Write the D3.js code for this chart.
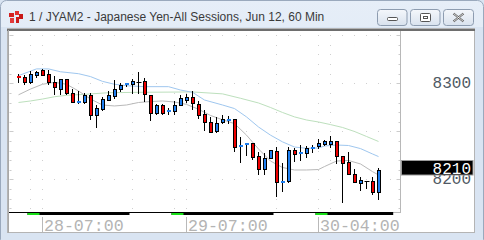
<!DOCTYPE html>
<html><head><meta charset="utf-8">
<script src="https://cdn.jsdelivr.net/npm/d3@7"></script>
<style>html,body{margin:0;padding:0;background:#d9e4f2;overflow:hidden}svg{display:block}</style>
</head><body>
<svg id="c" width="484" height="240"></svg>
<script>
const title = "1 / JYAM2 - Japanese Yen-All Sessions, Jun 12, 60 Min";
const tickIdx = [4, 28, 50];
const tickLabels = ["28-07:00", "29-07:00", "30-04:00"];
const priceLabels = [8300, 8200];
const lastPrice = 8210;

const open = [8308,8307,8301,8309,8313.5,8310,8301.4,8294.4,8304.5,8289.6,8281,8280.5,8288,8267,8273.5,8283,8286.5,8294.4,8298,8299,8301.7,8302.4,8287.5,8269.4,8277.4,8270,8271.5,8277,8282.6,8285.4,8278.4,8267.7,8259.4,8250.3,8260,8261.5,8262.5,8233.3,8235.7,8237.5,8224.3,8210.4,8221.9,8229.5,8197.7,8198.2,8230.5,8226,8227.7,8231.2,8234.7,8236.8,8236.8,8239.9,8224.3,8217.7,8205.5,8195.8,8198.7,8198.2,8187.1];
const high = [8310,8309,8313,8312.5,8314.6,8313.5,8307.6,8305,8304.5,8294.4,8292,8289.6,8289.6,8277,8286,8292,8303.4,8300.6,8300.3,8305,8311.5,8305.8,8287.5,8278.4,8278.4,8274.6,8281.6,8287.8,8288.5,8292,8281.9,8272.2,8265.2,8265.2,8267,8266,8262.5,8244.4,8237.8,8237.5,8228.7,8227.7,8230.5,8234,8216.7,8233.3,8232.3,8235.7,8234.7,8235.7,8241.7,8241,8245,8239.9,8224.3,8228.1,8210.7,8202.1,8198.7,8202.1,8211.5];
const low = [8301,8299,8300,8307,8308.6,8299,8288.5,8289,8289,8281,8279,8279,8263,8255,8272,8282.6,8284.4,8291.7,8297,8289.6,8289.6,8281.6,8261.8,8268,8268,8267.7,8267.7,8277,8280.8,8273.2,8263.5,8251.4,8249,8249.6,8259,8258.3,8229.8,8218.3,8225.3,8221.1,8205.2,8205.2,8221.9,8182.9,8187.8,8197.5,8219.4,8220.1,8223.5,8228.7,8232.3,8235.7,8234,8216.7,8176.7,8205.2,8196.9,8188.9,8190.6,8184.4,8179.5];
const close = [8306,8301,8310,8312,8309,8301,8296,8304.5,8289.6,8281,8282,8288,8267,8274,8283.6,8288,8294,8298,8300,8302.4,8301.7,8288.5,8268.7,8277,8268.7,8272,8277,8284.4,8286,8279.2,8267.5,8259.4,8249,8259,8262.5,8262.5,8233.3,8235.7,8237.5,8223.2,8210.4,8222.5,8230.5,8197.5,8198.7,8230.5,8226,8228.7,8232.3,8234,8238.1,8239.9,8239.9,8224.3,8217.5,8205.2,8196.9,8199.3,8198.7,8187.1,8210];

const blueIdx = [0,3,5,7,10,12,14,16,18,21,25,27,29,31,34,36,38,40,42,44,46,48,50,51,53,55,57,59,60];
const blueMa = [8308,8315,8315,8312,8310,8307,8302,8299,8297.5,8296.5,8296.5,8293,8290.6,8282.6,8277.4,8273.7,8265,8254.5,8246,8239,8233.6,8232.3,8232.6,8234.7,8235.7,8235.2,8232,8226.4,8223.7];
const grayIdx = [0,2,4,6,8,10,12,14,16,18,20,22,24,26,28,30,32,34,36,38,40,42,44,46,48,50,51,53,55,57,59,60];
const grayMa = [8288,8294,8299,8301,8299,8292,8283.6,8277.4,8276.4,8277.4,8280,8281,8281.6,8280.5,8278,8273,8266.5,8262,8258,8246,8231.6,8219,8212.3,8209.7,8209.7,8210.2,8213.3,8219,8219.6,8216,8208,8204.5];
const greenIdx = [0,2,4,6,8,11,15,20,29,34,37,40,42,44,46,48,50,52,54,56,58,60];
const greenMa = [8280,8281.6,8283.6,8286,8287.5,8288.5,8290.2,8290.6,8291,8289,8284.4,8279.5,8274.8,8269.6,8265,8261.8,8259.7,8257,8254,8249.8,8244.6,8239.4];

// session strip: start index and type
const sessionStart = [-1.55, 2, 4, 19, 26, 28, 43, 50, 52];
const sessionType = ["w", "g", "k", "w", "g", "k", "w", "g", "k"];
const sessionEndIdx = 62.95;
const gridColIdx = [2, 4, 19, 26, 28, 43, 50, 52];
const denomStarts = [2, 19, 26, 43, 50];

const svg = d3.select("#c");
const defs = svg.append("defs");
const tg = defs.append("linearGradient").attr("id","tb").attr("x1",0).attr("y1",0).attr("x2",0).attr("y2",1);
tg.append("stop").attr("offset","0%").attr("stop-color","#e6eef8");
tg.append("stop").attr("offset","100%").attr("stop-color","#d3dfee");
const bg = defs.append("linearGradient").attr("id","btn").attr("x1",0).attr("y1",0).attr("x2",0).attr("y2",1);
bg.append("stop").attr("offset","0%").attr("stop-color","#f4f7fb");
bg.append("stop").attr("offset","100%").attr("stop-color","#d9e2ee");

// window frame
svg.append("rect").attr("x",0.5).attr("y",0.5).attr("width",483).attr("height",245).attr("rx",6)
  .attr("fill","url(#tb)").attr("stroke","#9aa9bd");
svg.append("rect").attr("x",1).attr("y",27).attr("width",482).attr("height",213).attr("fill","#d9e4f2");

// title icon
const ic = svg.append("g");
[[9,13,5,4,"#d42020"],[15,11,4,4,"#e03030"],[19,14,4,5,"#c81818"],[10,18,4,5,"#e23a3a"],[16,17,3,6,"#cc1c1c"]]
  .forEach(d=>ic.append("rect").attr("x",d[0]).attr("y",d[1]).attr("width",d[2]).attr("height",d[3]).attr("fill",d[4]));
svg.append("text").attr("x",29).attr("y",21).attr("font-family","Liberation Sans, Arial, sans-serif")
  .attr("font-size",12).attr("fill","#3a3a3a").text(title);

// buttons
const btns = [[377.5,29.5],[410.5,29.5],[443.5,30]];
btns.forEach((b,i)=>{
  svg.append("rect").attr("x",b[0]).attr("y",9.5).attr("width",b[1]).attr("height",16).attr("rx",3)
    .attr("fill","url(#btn)").attr("stroke","#8d9cb0");
});
svg.append("rect").attr("x",387.5).attr("y",17.5).attr("width",10).attr("height",3).attr("rx",1).attr("fill","#fff").attr("stroke","#555");
svg.append("rect").attr("x",420.5).attr("y",13.5).attr("width",10).attr("height",8).attr("rx",1).attr("fill","#fff").attr("stroke","#555");
svg.append("rect").attr("x",423.5).attr("y",16.5).attr("width",4).attr("height",2).attr("fill","#fff").attr("stroke","#555");
svg.append("path").attr("d","M453.5,13.5 L463.5,21.5 M463.5,13.5 L453.5,21.5").attr("stroke","#555").attr("stroke-width",2.2);
svg.append("path").attr("d","M453.5,13.5 L463.5,21.5 M463.5,13.5 L453.5,21.5").attr("stroke","#fff").attr("stroke-width",0.8);

// chart panel
svg.append("rect").attr("x",7.5).attr("y",28.5).attr("width",467).attr("height",204).attr("fill","#fff").attr("stroke","#b4b4b4");
svg.append("line").attr("x1",7).attr("x2",475).attr("y1",30).attr("y2",30).attr("stroke","#6e6e6e").attr("stroke-width",2);

const x = d3.scaleLinear().domain([0, 60]).range([18.5, 378.5]);
const y = d3.scaleLinear().domain([8200, 8300]).range([179.3, 83.3]);
const plotL = 8.5, plotR = 400.5, plotT = 31, plotB = 212;

// grid dots
const grid = svg.append("g");
const levels = d3.range(8170, 8351, 10);
levels.forEach(p=>{
  const yy = Math.round(y(p)) + 0.5;
  const major = p % 50 === 0;
  let cols = gridColIdx.slice();
  if (major) {
    cols = [];
    denomStarts.forEach((s,k)=>{
      const nxt = k < denomStarts.length-1 ? denomStarts[k+1] : 64;
      for (let i=s; i<nxt-1; i+=2) cols.push(i);
    });
  }
  cols.forEach(i=>{
    grid.append("rect").attr("x",Math.floor(x(i))).attr("y",yy-0.5).attr("width",1).attr("height",1).attr("fill","#cfcfcf");
  });
  const tl = major ? 4 : 2;
  grid.append("line").attr("x1",plotL+1).attr("x2",plotL+1+tl).attr("y1",yy).attr("y2",yy).attr("stroke","#cccccc");
  grid.append("line").attr("x1",plotR-tl).attr("x2",plotR).attr("y1",yy).attr("y2",yy).attr("stroke","#cccccc");
});

// plot frame
svg.append("line").attr("x1",plotL).attr("x2",plotL).attr("y1",30).attr("y2",233).attr("stroke","#a8a8a8");
svg.append("line").attr("x1",plotR).attr("x2",plotR).attr("y1",31).attr("y2",213).attr("stroke","#b8b8b8");
svg.append("line").attr("x1",plotL).attr("x2",plotR).attr("y1",212.5).attr("y2",212.5).attr("stroke","#b8b8b8");

// moving averages
const line = d3.line().x(d=>x(d[0])).y(d=>y(d[1]));
[[greenIdx,greenMa,"#bde0bd"],[grayIdx,grayMa,"#b9b9b9"],[blueIdx,blueMa,"#9fc7ef"]].forEach(s=>{
  svg.append("path").attr("d", line(s[0].map((v,k)=>[v,s[1][k]]))).attr("fill","none").attr("stroke",s[2]).attr("stroke-width",1);
});

// candles
const cg = svg.append("g");
open.forEach((o,i)=>{
  const c = close[i];
  const cx = x(i);
  cg.append("line").attr("x1",cx).attr("x2",cx).attr("y1",Math.round(y(high[i]))).attr("y2",Math.round(y(low[i]))+1)
    .attr("stroke","#000").attr("stroke-width",1);
  const top = Math.round(y(Math.max(o,c))), bot = Math.round(y(Math.min(o,c)));
  if (o === c) {
    cg.append("line").attr("x1",cx-2).attr("x2",cx+3).attr("y1",top+0.5).attr("y2",top+0.5).attr("stroke","#000");
    return;
  }
  const col = c > o ? "#1f7ff0" : "#ee0000";
  if (bot - top < 3) {
    cg.append("rect").attr("x",cx-1.5).attr("y",top).attr("width",4).attr("height",2).attr("fill",col);
  } else {
    cg.append("rect").attr("x",cx-1).attr("y",top+0.5).attr("width",3).attr("height",bot-top)
      .attr("fill",col).attr("stroke","#000").attr("stroke-width",1);
  }
});

// session strip
const strip = svg.append("g");
strip.append("rect").attr("x",9).attr("y",212).attr("width",x(sessionEndIdx)-3-9).attr("height",3).attr("fill","#000");
sessionStart.forEach((s,k)=>{
  const e = k < sessionStart.length-1 ? sessionStart[k+1] : sessionEndIdx;
  const x0 = Math.max(9, x(s)-3), x1 = x(e)-3;
  if (sessionType[k] === "w") strip.append("rect").attr("x",x0).attr("y",213).attr("width",x1-x0).attr("height",2).attr("fill","#fff");
  if (sessionType[k] === "g") strip.append("rect").attr("x",x0).attr("y",213).attr("width",x1-x0).attr("height",2).attr("fill","#18e018");
});

// time axis
tickIdx.forEach((t,k)=>{
  const tx = Math.floor(x(t)) + 0.5;
  svg.append("line").attr("x1",tx).attr("x2",tx).attr("y1",217).attr("y2",232).attr("stroke","#b9b9b9");
  svg.append("text").attr("x",tx+1.5).attr("y",230.5).attr("font-family","Liberation Mono, monospace")
    .attr("font-size",16.6).attr("fill","#b4b4b4").text(tickLabels[k]);
});

// price axis
const priceY = {8300: 87.5, 8200: 184};
priceLabels.forEach(p=>{
  svg.append("text").attr("x",471).attr("y",y(p)+4.5).attr("text-anchor","end").attr("font-family","Liberation Mono, monospace")
    .attr("font-size",16).attr("fill","#4f5964").text(p);
});
svg.append("rect").attr("x",401.5).attr("y",160.5).attr("width",71.5).attr("height",14.5).attr("fill","#000").attr("stroke","#9a9a9a");
svg.append("text").attr("x",471).attr("y",174).attr("text-anchor","end").attr("font-family","Liberation Mono, monospace")
  .attr("font-size",16).attr("fill","#fff").text(lastPrice);
</script>
</body></html>
